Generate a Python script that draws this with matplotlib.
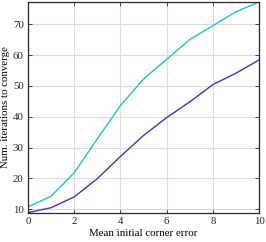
import matplotlib
matplotlib.use("Agg")
import matplotlib.pyplot as plt

x = [0, 1, 2, 3, 4, 5, 6, 7, 8, 9, 10]
cyan_vals = [10.8, 14.2, 21.8, 32.8, 43.6, 52.2, 58.6, 65.0, 69.5, 74.0, 77.2]
blue_vals = [8.9, 10.5, 14.0, 19.9, 27.1, 33.9, 39.7, 44.8, 50.4, 54.1, 58.4]
xticks = [0, 2, 4, 6, 8, 10]
yticks = [10, 20, 30, 40, 50, 60, 70]

plt.rcParams['font.family'] = ['Liberation Serif', 'DejaVu Serif']
fig = plt.figure(figsize=(2.66, 2.42), dpi=100)
ax = fig.add_axes([0.105, 0.12, 0.869, 0.872])
ax.plot(x, cyan_vals, color='#1fc4c4', lw=1.0)
ax.plot(x, blue_vals, color='#4a2fbd', lw=1.0)
ax.set_xlim(0, 10)
ax.set_ylim(8.8, 77.2)
ax.set_xticks(xticks)
ax.set_yticks(yticks)
ax.grid(True, color='#dcdcdc', lw=0.8)
ax.set_axisbelow(True)
ax.tick_params(direction='in', top=True, right=True, labelsize=7.8, length=3, width=0.6, colors='#262626', pad=3)
for s in ax.spines.values():
    s.set_color('#262626')
    s.set_linewidth(0.9)
ax.set_xlabel('Mean initial corner error', fontsize=7.8, labelpad=2)
ax.set_ylabel('Num. iterations to converge', fontsize=7.8, labelpad=2)
fig.savefig('out.png', dpi=100)
